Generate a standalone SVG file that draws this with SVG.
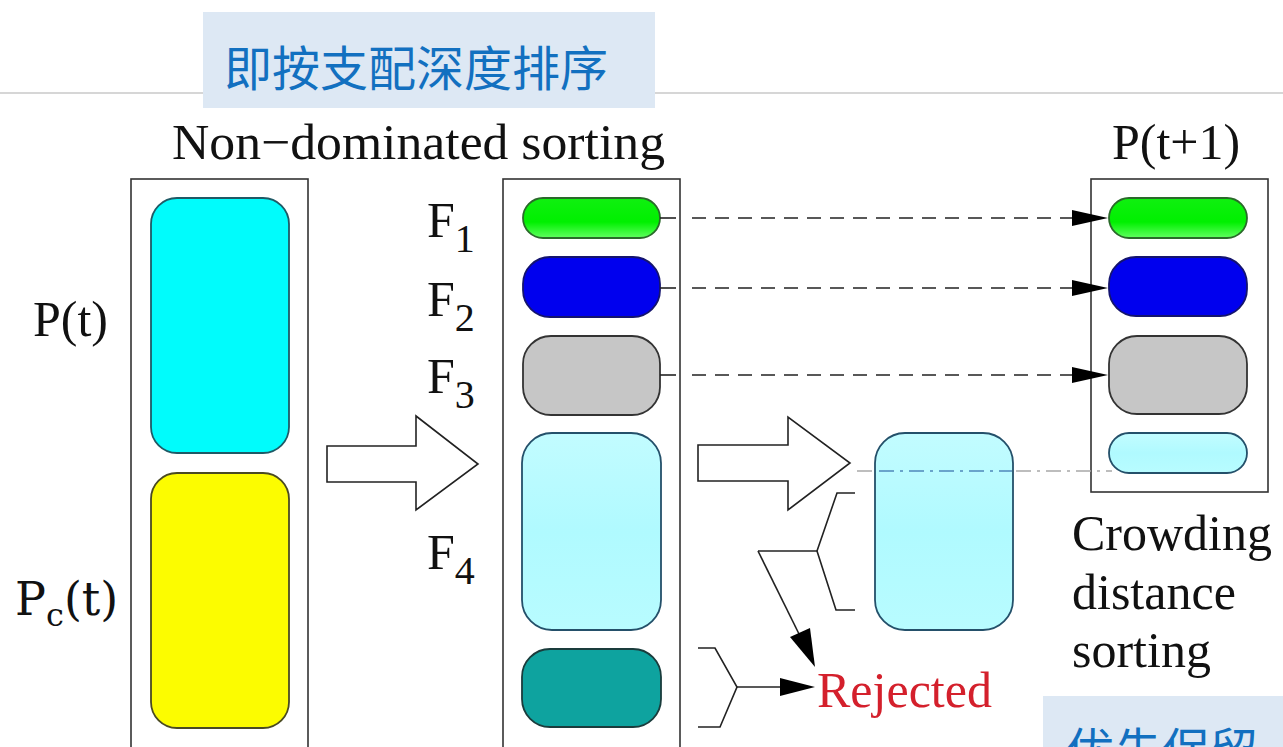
<svg xmlns="http://www.w3.org/2000/svg" width="1283" height="747" viewBox="0 0 1283 747">
<defs>
<style>
.frame{fill:#fff;stroke:#333;stroke-width:1.6}
.serif{font-family:"Liberation Serif","Times New Roman",serif;font-size:50px;fill:#111}
.sub{font-size:40px}
.cjk{font-family:"Noto Sans CJK SC","Noto Sans CJK TC",sans-serif;font-size:48px;fill:#1270c0}
.note{fill:#dde8f4}
.ln{fill:none;stroke:#222;stroke-width:1.6}
.dash{fill:none;stroke:#222;stroke-width:1.6;stroke-dasharray:14 9}
.hollow{fill:#fff;stroke:#222;stroke-width:1.6;stroke-linejoin:miter}
.head{fill:#000}
.cyan{fill:#00fcfc;stroke:#1f5a66;stroke-width:1.8}
.yellow{fill:#fcfc00;stroke:#4a4a22;stroke-width:1.8}
.green{fill:url(#gGreen);stroke:#2a6a2a;stroke-width:1.8}
.blue{fill:#0000ee;stroke:#14146e;stroke-width:1.8}
.gray{fill:#c6c6c6;stroke:#333;stroke-width:1.8}
.lcyan{fill:url(#gLcyan);stroke:#24506a;stroke-width:1.8}
.teal{fill:#0ea39f;stroke:#1a3c3c;stroke-width:1.8}
</style>
<linearGradient id="gGreen" x1="0" y1="0" x2="0" y2="1">
<stop offset="0" stop-color="#10f010"/>
<stop offset="0.6" stop-color="#00f000"/>
<stop offset="1" stop-color="#60ff60"/>
</linearGradient>
<linearGradient id="gLcyan" x1="0" y1="0" x2="0" y2="1">
<stop offset="0" stop-color="#c2fcff"/>
<stop offset="0.5" stop-color="#b0faff"/>
<stop offset="1" stop-color="#b8fcff"/>
</linearGradient>
</defs>
<rect width="1283" height="747" fill="#fff"/>
<line x1="0" y1="93" x2="1283" y2="93" stroke="#c8c8c8" stroke-width="1.5"/>

<g id="note-top">
<rect class="note" x="203" y="12" width="452" height="96"/>
<text class="cjk" x="224" y="86">即按支配深度排序</text>
</g>

<g id="note-bottom">
<rect class="note" x="1043" y="696" width="245" height="60"/>
<text class="cjk" x="1066" y="768">优先保留</text>
</g>

<g id="title-nds">
<text class="serif" x="172" y="159" textLength="493" lengthAdjust="spacingAndGlyphs">Non−dominated sorting</text>
</g>

<g id="population-t">
<rect class="frame" x="131" y="179" width="177" height="590"/>
<rect class="cyan" x="151" y="198" width="138" height="255" rx="26"/>
<rect class="yellow" x="151" y="473" width="138" height="255" rx="26"/>
<text class="serif" x="33" y="336">P(t)</text>
<text x="15" y="615" font-family="'DejaVu Serif',serif" font-size="46" fill="#111">P<tspan font-size="32" dy="11">c</tspan><tspan dy="-11">(t)</tspan></text>
</g>

<g id="fronts">
<rect class="frame" x="503" y="179" width="177" height="590"/>
<rect class="green" x="523" y="198" width="137" height="40" rx="20"/>
<rect class="blue" x="523" y="257" width="137" height="60" rx="27"/>
<rect class="gray" x="523" y="336" width="137" height="79" rx="28"/>
<rect class="lcyan" x="522" y="433" width="139" height="197" rx="30"/>
<rect class="teal" x="522" y="649" width="139" height="78" rx="28"/>
<text class="serif" x="427" y="237">F<tspan class="sub" dy="15">1</tspan></text>
<text class="serif" x="427" y="316">F<tspan class="sub" dy="15">2</tspan></text>
<text class="serif" x="427" y="393">F<tspan class="sub" dy="15">3</tspan></text>
<text class="serif" x="427" y="569">F<tspan class="sub" dy="15">4</tspan></text>
</g>

<g id="crowding-front">
<rect class="lcyan" x="875" y="433" width="138" height="197" rx="30"/>
</g>

<g id="population-t1">
<text class="serif" x="1112" y="159">P(t+1)</text>
<rect class="frame" x="1091" y="179" width="177" height="313"/>
<rect class="green" x="1109" y="198" width="138" height="40" rx="20"/>
<rect class="blue" x="1109" y="257" width="138" height="59" rx="27"/>
<rect class="gray" x="1109" y="336" width="138" height="78" rx="28"/>
<rect class="lcyan" x="1109" y="433" width="138" height="40" rx="20"/>
</g>

<g id="crowding-label">
<text class="serif" x="1072" y="550">Crowding</text>
<text class="serif" x="1072" y="609">distance</text>
<text class="serif" x="1072" y="667">sorting</text>
</g>

<g id="rejected">
<text class="serif" x="817" y="707" fill="#d4202c" style="fill:#d4202c">Rejected</text>
</g>

<g id="connectors">
<!-- hollow arrows -->
<polygon class="hollow" points="327,446 416,446 416,416 478,464 416,510 416,482 327,482"/>
<polygon class="hollow" points="698,445 788,445 788,417 850,463 788,510 788,481 698,481"/>
<!-- F1..F3 dashed arrows -->
<line class="ln" x1="660" y1="218" x2="676" y2="218"/>
<line class="dash" x1="692" y1="218" x2="1074" y2="218"/>
<polygon class="head" points="1072,210 1108,218 1072,226"/>
<line class="ln" x1="660" y1="288" x2="676" y2="288"/>
<line class="dash" x1="692" y1="288" x2="1074" y2="288"/>
<polygon class="head" points="1072,280 1108,288 1072,296"/>
<line class="ln" x1="660" y1="375" x2="676" y2="375"/>
<line class="dash" x1="692" y1="375" x2="1074" y2="375"/>
<polygon class="head" points="1072,367 1108,375 1072,383"/>
<!-- crowding cut line -->
<line x1="857" y1="471" x2="875" y2="471" stroke="#a8a8a8" stroke-width="1.5" stroke-dasharray="15 5 3 5"/>
<line x1="879" y1="471" x2="1012" y2="471" stroke="#4f88bb" stroke-width="1.5" stroke-dasharray="15 6 3 6"/>
<line x1="1016" y1="471" x2="1112" y2="471" stroke="#a8a8a8" stroke-width="1.5" stroke-dasharray="15 6 3 6"/>
<!-- brace from crowding front to Rejected -->
<polyline class="ln" points="855,493 837,493 817,551 836,610 855,610"/>
<line class="ln" x1="817" y1="551" x2="758" y2="551"/>
<line class="ln" x1="758" y1="551" x2="802" y2="640"/>
<polygon class="head" points="790,637 815,667 810,628"/>
<!-- brace from last front to Rejected -->
<polyline class="ln" points="698,648 715,648 737,687 720,727 698,727"/>
<line class="ln" x1="737" y1="687" x2="785" y2="687"/>
<polygon class="head" points="780,678 815,687 780,696"/>
</g>
</svg>
